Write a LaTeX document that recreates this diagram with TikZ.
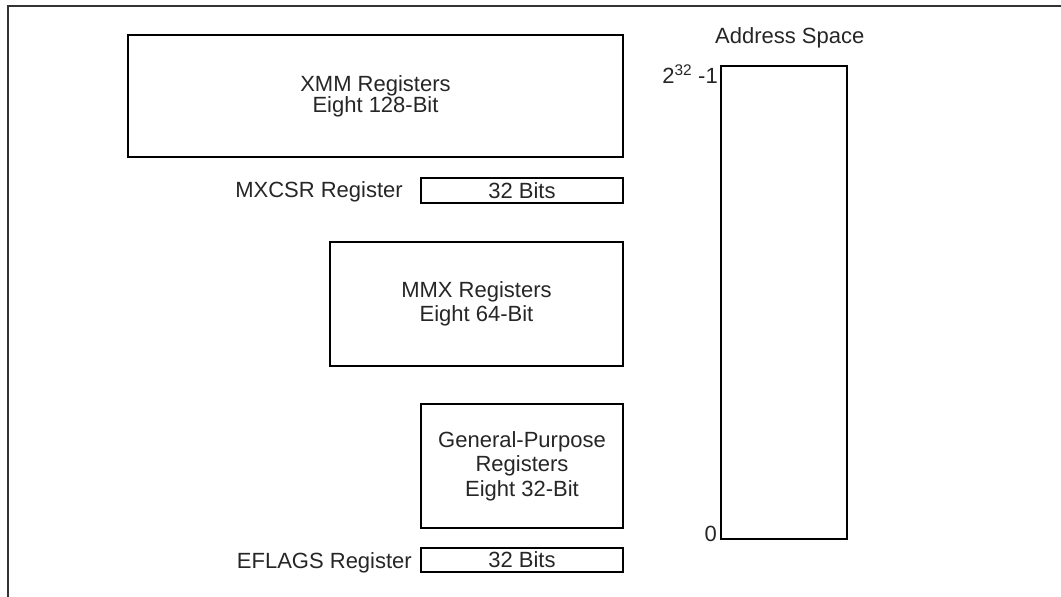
\documentclass[tikz,border=0pt]{standalone}
\usepackage{fontspec}
\setmainfont{Liberation Sans}
\begin{document}
\begin{tikzpicture}[x=1pt,y=-1pt,
  frameline/.style={line width=1.5pt, draw=black!80},
  regbox/.style={draw, line width=1.4pt, inner sep=0pt, align=center, text=black!85},
  lbl/.style={inner sep=0pt, text=black!85},
  every node/.style={font=\fontsize{22}{22}\selectfont}]
\useasboundingbox (0,0) rectangle (1061,597);
\draw[frameline] (8,600) -- (8,6) -- (1064,6);
\node[regbox, minimum width=495, minimum height=122, font=\fontsize{22}{21}\selectfont] (xmm) at (375.5,96) {XMM Registers\\Eight 128-Bit};
\node[regbox, minimum width=202, minimum height=25] (mxcsr) at (522,190.5) {32 Bits};
\node[lbl, anchor=base east] (mxcsrl) at (403,197) {MXCSR Register};
\node[regbox, minimum width=293, minimum height=124, font=\fontsize{22}{24}\selectfont] (mmx) at (476.5,304) {MMX Registers\\Eight 64-Bit};
\node[regbox, minimum width=202, minimum height=124, font=\fontsize{22}{24.5}\selectfont] (gp) at (522,466) {General-Purpose\\Registers\\Eight 32-Bit};
\node[regbox, minimum width=202, minimum height=24] (eflags) at (522,560) {32 Bits};
\node[lbl, anchor=base east] (eflagsl) at (412,568) {EFLAGS Register};
\node[regbox, minimum width=126, minimum height=473] (addr) at (784,302.5) {};
\node[lbl, anchor=base west] (addrl) at (715,43) {Address Space};
\node[lbl, anchor=base east] (top) at (718,83) {2\textsuperscript{32} -1};
\node[lbl, anchor=base east] (zero) at (717,541) {0};
\end{tikzpicture}
\end{document}
